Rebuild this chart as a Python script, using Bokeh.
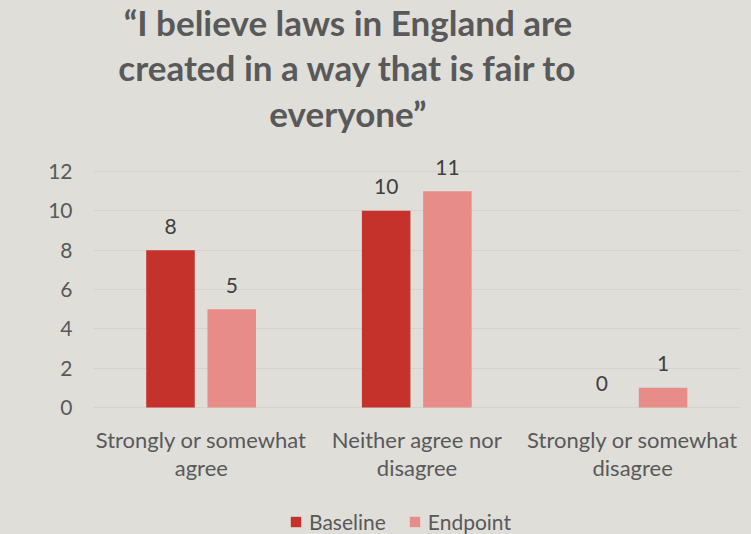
from bokeh.plotting import figure
from bokeh.models import ColumnDataSource, FactorRange, LabelSet, Legend, LegendItem, FixedTicker
from bokeh.core.properties import value
from bokeh.transform import dodge
from bokeh.embed import file_html
from bokeh.resources import INLINE

# ---- data ----
categories = ["Strongly or somewhat\nagree", "Neither agree nor\ndisagree", "Strongly or somewhat\ndisagree"]
baseline = [8, 10, 0]
endpoint = [5, 11, 1]
series_names = ["Baseline", "Endpoint"]
title_lines = ["\u201cI believe laws in England are", "created in a way that is fair to", "everyone\u201d"]
y_ticks = [0, 2, 4, 6, 8, 10, 12]

BG = "#DFDED9"
C_BASE = "#C5312B"
C_END = "#E88C8A"
TXT = "#595959"
FONT = "Lato"

W, H = 751, 534
FRAME_L, FRAME_R = 93, 740          # frame in page pixels
Y0_PX, Y12_PX = 407, 171            # pixel rows of y=0 and y=12
PX = (Y0_PX - Y12_PX) / 12.0        # pixels per unit
CATW = (FRAME_R - FRAME_L) / len(categories)

def y_of(py):                       # page row -> data y
    return (Y0_PX - py) / PX

def x_of(px):                       # page column -> synthetic x
    return (px - FRAME_L) / CATW

src = ColumnDataSource(dict(
    cat=categories,
    baseline=baseline,
    endpoint=endpoint,
    baseline_txt=[str(v) for v in baseline],
    endpoint_txt=[str(v) for v in endpoint],
))

p = figure(width=W, height=H, x_range=FactorRange(*categories), y_range=(y_of(H), y_of(0)),
           output_backend="svg", toolbar_location=None,
           min_border_left=FRAME_L, min_border_right=W - FRAME_R, min_border_top=0, min_border_bottom=0)
p.background_fill_color = BG
p.border_fill_color = BG
p.outline_line_color = None
p.x_range.range_padding = 0
p.x_range.factor_padding = 0

rb = p.vbar(x=dodge("cat", -0.143, range=p.x_range), top="baseline", width=0.225, source=src,
            fill_color=C_BASE, line_color=None)
re_ = p.vbar(x=dodge("cat", 0.141, range=p.x_range), top="endpoint", width=0.225, source=src,
             fill_color=C_END, line_color=None)

for field, off in (("baseline", -0.143), ("endpoint", 0.141)):
    p.add_layout(LabelSet(x=dodge("cat", off, range=p.x_range), y=field, text=field + "_txt", source=src,
                          y_offset=24, text_align="center", text_baseline="middle",
                          text_font=value(FONT), text_font_size="21px", text_color="#404040"))

# category labels under the bars (the frame reaches the page bottom)
p.text(x="cat", y=y_of(453), text="cat", source=src, text_align="center", text_baseline="middle",
       text_font=value(FONT), text_font_size="22px", text_color=TXT, text_line_height=1.06)

# axes / grid
p.xaxis.visible = False
p.xgrid.grid_line_color = None
p.ygrid.grid_line_color = "#D3D2CE"
p.ygrid.grid_line_width = 1
p.yaxis.ticker = FixedTicker(ticks=y_ticks)
p.yaxis.axis_line_color = None
p.yaxis.major_tick_line_color = None
p.yaxis.minor_tick_line_color = None
p.yaxis.major_tick_out = 0
p.yaxis.major_tick_in = 0
p.yaxis.major_label_text_font = FONT
p.yaxis.major_label_text_font_size = "21px"
p.yaxis.major_label_text_color = TXT
p.yaxis.major_label_standoff = 21

# title
tsrc = ColumnDataSource(dict(t=title_lines, y=[y_of(b) for b in (21, 66, 112)]))
p.text(x=x_of(347.5), y="y", text="t", source=tsrc, text_align="center", text_baseline="alphabetic",
       text_font=value(FONT), text_font_size="35px", text_font_style="bold", text_color=TXT)

legend = Legend(items=[LegendItem(label=series_names[0], renderers=[rb]),
                       LegendItem(label=series_names[1], renderers=[re_])],
                orientation="horizontal", location=(289 - FRAME_L, 0),
                glyph_width=13, glyph_height=13, label_standoff=7, spacing=22,
                padding=0, margin=0, border_line_color=None, background_fill_alpha=0,
                label_text_font=FONT, label_text_font_size="21px", label_text_color=TXT)
p.add_layout(legend, "center")

html = file_html(p, INLINE)
html = html.replace("<head>", "<head><style>html,body{background:%s;}</style>" % BG, 1)
open("out.html", "w").write(html)
